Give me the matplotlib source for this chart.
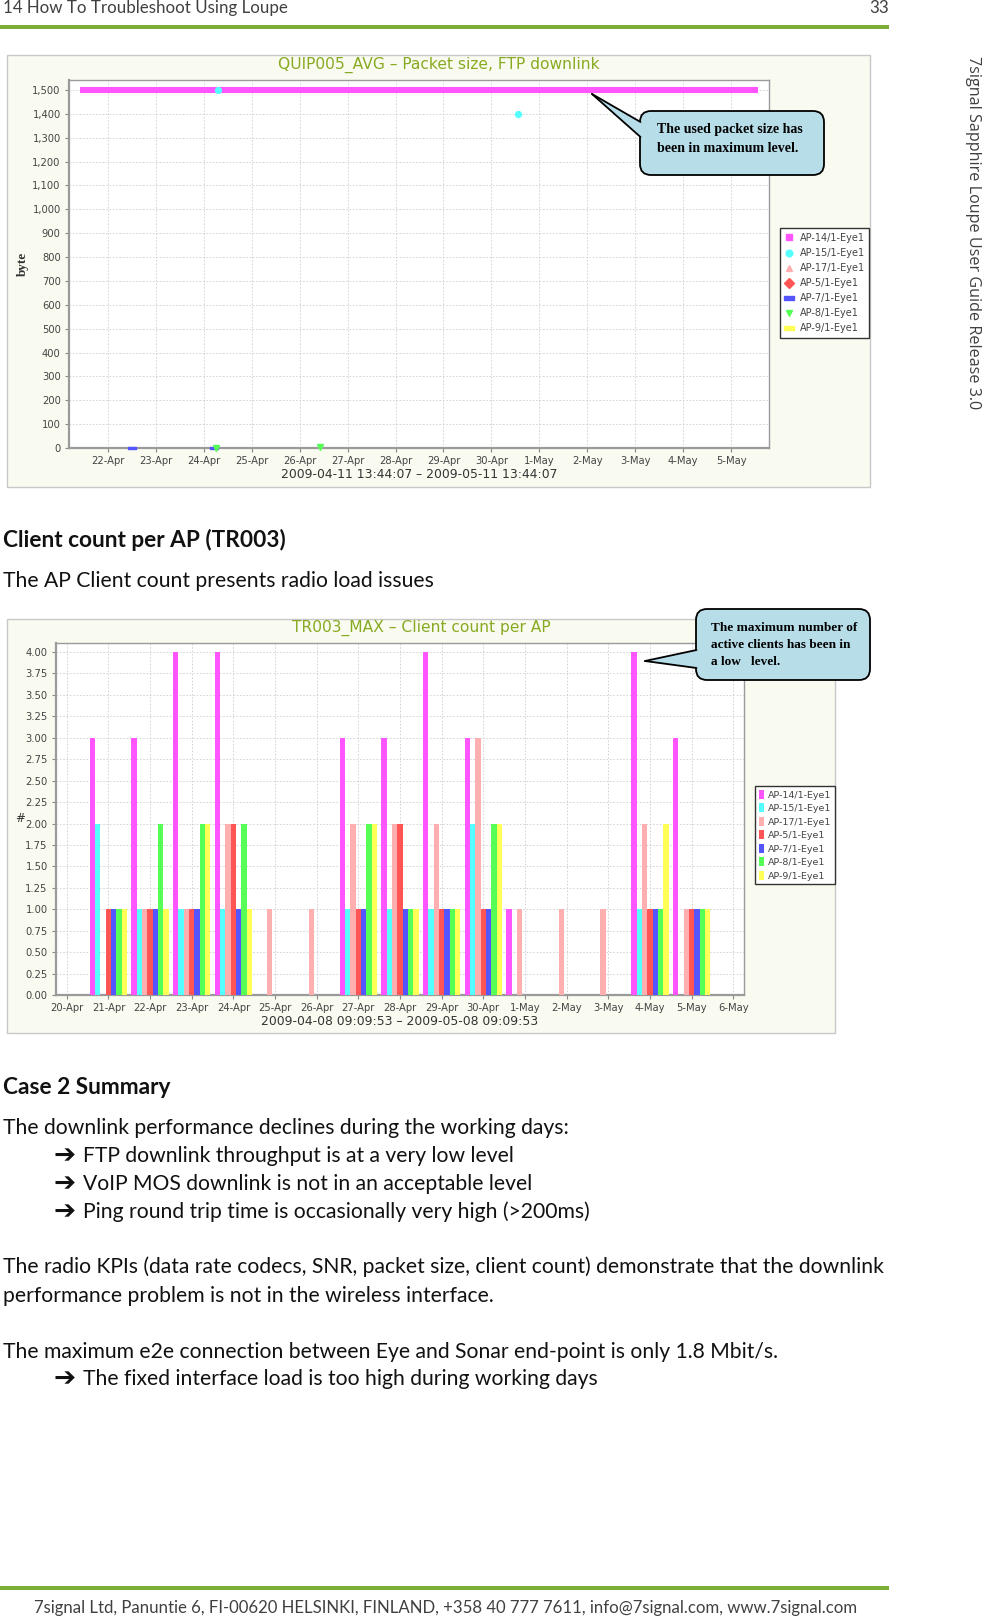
import matplotlib
matplotlib.use("Agg")
import matplotlib.pyplot as plt
import matplotlib.dates as mdates
import numpy as np
import pandas as pd
from matplotlib.patches import FancyBboxPatch, Rectangle, Polygon
from matplotlib.lines import Line2D
from matplotlib.ticker import FuncFormatter, MultipleLocator, FixedLocator

W, H = 982, 1617

# ---------------- data ----------------
series_names = ["AP-14/1-Eye1", "AP-15/1-Eye1", "AP-17/1-Eye1", "AP-5/1-Eye1",
                "AP-7/1-Eye1", "AP-8/1-Eye1", "AP-9/1-Eye1"]
series_colors = ["#ff55ff", "#55ffff", "#ffafaf", "#ff5555", "#5555ff", "#55ff55", "#ffff55"]

# Packet size chart (QUIP005_AVG)
pkt_title = "QUIP005_AVG \u2013 Packet size, FTP downlink"
pkt_range = "2009-04-11 13:44:07 \u2013 2009-05-11 13:44:07"
pkt_ap14_t = ["2009-04-21 10:00", "2009-05-05 13:30"]
pkt_ap14_v = [1500, 1500]
pkt_ap15_t = ["2009-04-24 07:00", "2009-04-30 13:30"]
pkt_ap15_v = [1500, 1400]
pkt_ap17_t, pkt_ap17_v = [], []
pkt_ap5_t, pkt_ap5_v = [], []
pkt_ap7_t = ["2009-04-22 12:00", "2009-04-24 05:00"]
pkt_ap7_v = [0, 0]
pkt_ap8_t = ["2009-04-24 06:00", "2009-04-26 10:00"]
pkt_ap8_v = [0, 4]
pkt_ap9_t, pkt_ap9_v = [], []

# Client count chart (TR003_MAX)
cc_title = "TR003_MAX \u2013 Client count per AP"
cc_range = "2009-04-08 09:09:53 \u2013 2009-05-08 09:09:53"
cc_days = ["20-Apr", "21-Apr", "22-Apr", "23-Apr", "24-Apr", "25-Apr", "26-Apr", "27-Apr",
           "28-Apr", "29-Apr", "30-Apr", "1-May", "2-May", "3-May", "4-May", "5-May", "6-May"]
cc_ap14 = [0, 3, 3, 4, 4, 0, 0, 3, 3, 4, 3, 1, 0, 0, 4, 3, 0]
cc_ap15 = [0, 2, 1, 1, 1, 0, 0, 1, 1, 1, 2, 0, 0, 0, 1, 0, 0]
cc_ap17 = [0, 0, 1, 1, 2, 1, 1, 2, 2, 2, 3, 1, 1, 1, 2, 1, 0]
cc_ap5 = [0, 1, 1, 1, 2, 0, 0, 1, 2, 1, 1, 0, 0, 0, 1, 1, 0]
cc_ap7 = [0, 1, 1, 1, 1, 0, 0, 1, 1, 1, 1, 0, 0, 0, 1, 1, 0]
cc_ap8 = [0, 1, 2, 2, 2, 0, 0, 2, 1, 1, 2, 0, 0, 0, 1, 1, 0]
cc_ap9 = [0, 1, 1, 2, 1, 0, 0, 2, 1, 1, 2, 0, 0, 0, 2, 1, 0]

# ---------------- helpers ----------------
def frac(x, y, w, h):
    return [x / W, 1 - (y + h) / H, w / W, h / H]

def tnum(lst):
    return np.array([mdates.date2num(pd.Timestamp(s).to_pydatetime()) for s in lst], dtype=float)

flat_rect = [(-1, -0.35), (1, -0.35), (1, 0.35), (-1, 0.35), (-1, -0.35)]
series_markers = ["s", "o", "^", "D", flat_rect, "v", flat_rect]

fig = plt.figure(figsize=(W / 100, H / 100), dpi=100)
fig.patch.set_facecolor("white")

bg = fig.add_axes([0, 0, 1, 1])
bg.set_xlim(0, W)
bg.set_ylim(H, 0)
bg.axis("off")

renderer = fig.canvas.get_renderer()

def fit_size(text, family, weight, target_w, base=14.0):
    t = fig.text(0, 0, text, fontsize=base, family=family, weight=weight)
    w = t.get_window_extent(renderer).width
    t.remove()
    return base * target_w / w

GREEN = "#7cad35"
BODY_FONT = ["Lato", "DejaVu Sans"]

# header / footer
bg.add_patch(Rectangle((0, 25), 889, 4, fc=GREEN, ec="none"))
bg.add_patch(Rectangle((0, 1586), 889, 4, fc=GREEN, ec="none"))
hs = fit_size("14 How To Troubleshoot Using Loupe", BODY_FONT, "normal", 285)
bg.text(3, 8, "14 How To Troubleshoot Using Loupe", fontsize=hs, family=BODY_FONT,
        color="#404040", ha="left", va="center")
bg.text(889, 8, "33", fontsize=hs, family=BODY_FONT, color="#404040", ha="right", va="center")
fs_foot = fit_size("7signal Ltd, Panuntie 6, FI-00620 HELSINKI, FINLAND, +358 40 777 7611, "
                   "info@7signal.com, www.7signal.com", BODY_FONT, "normal", 830)
bg.text(446, 1608, "7signal Ltd, Panuntie 6, FI-00620 HELSINKI, FINLAND, +358 40 777 7611, "
        "info@7signal.com, www.7signal.com", fontsize=fs_foot, family=BODY_FONT,
        color="#404040", ha="center", va="center")
vs = fit_size("7signal Sapphire Loupe User Guide Release 3.0", ["Open Sans", "DejaVu Sans"], "normal", 353)
bg.text(973, 233, "7signal Sapphire Loupe User Guide Release 3.0", fontsize=vs,
        family=["Open Sans", "DejaVu Sans"], color="#404040", rotation=-90,
        ha="center", va="center")

# body text
bs = fit_size("The radio KPIs (data rate codecs, SNR, packet size, client count) demonstrate "
              "that the downlink", BODY_FONT, "normal", 882)
hb = fit_size("Client count per AP (TR003)", BODY_FONT, "bold", 285)
TXT = "#111111"
bg.text(3, 540, "Client count per AP (TR003)", fontsize=hb, family=BODY_FONT, weight="bold",
        color=TXT, ha="left", va="center")
bg.text(3, 581, "The AP Client count presents radio load issues", fontsize=bs,
        family=BODY_FONT, color=TXT, ha="left", va="center")
bg.text(3, 1087, "Case 2 Summary", fontsize=hb, family=BODY_FONT, weight="bold",
        color=TXT, ha="left", va="center")
plain_lines = [
    (1128, "The downlink performance declines during the working days:", False),
    (1156, "FTP downlink throughput is at a very low level", True),
    (1184, "VoIP MOS downlink is not in an acceptable level", True),
    (1212, "Ping round trip time is occasionally very high (>200ms)", True),
    (1267, "The radio KPIs (data rate codecs, SNR, packet size, client count) demonstrate that the downlink", False),
    (1296, "performance problem is not in the wireless interface.", False),
    (1352, "The maximum e2e connection between Eye and Sonar end-point is only 1.8 Mbit/s.", False),
    (1379, "The fixed interface load is too high during working days", True),
]
for y, s, bullet in plain_lines:
    if bullet:
        bg.text(54, y, "\u2794", fontsize=bs * 1.25, family=["DejaVu Sans"], weight="bold",
                color=TXT, ha="left", va="center")
        bg.text(83, y, s, fontsize=bs, family=BODY_FONT, color=TXT, ha="left", va="center")
    else:
        bg.text(3, y, s, fontsize=bs, family=BODY_FONT, color=TXT, ha="left", va="center")

# chart panels
PANEL = "#f9fbf0"
bg.add_patch(Rectangle((7, 55), 863, 432, fc=PANEL, ec="#c8c8c8", lw=1))
bg.add_patch(Rectangle((7, 619), 828, 414, fc=PANEL, ec="#c8c8c8", lw=1))
TITLE_C = "#88aa22"
bg.text(438.5, 65, pkt_title, ha="center", va="center", color=TITLE_C, fontsize=11.2,
        family="DejaVu Sans")
bg.text(421, 628, cc_title, ha="center", va="center", color=TITLE_C, fontsize=11.2,
        family="DejaVu Sans")

def style_axes(ax):
    ax.set_facecolor("white")
    for sp in ax.spines.values():
        sp.set_color("#9a9a9a")
        sp.set_linewidth(1.0)
    ax.spines["left"].set_linewidth(1.6)
    ax.spines["bottom"].set_linewidth(1.6)
    ax.tick_params(direction="out", length=3, width=0.8, color="#888888",
                   labelcolor="#444444", labelsize=7.2, pad=3)
    ax.grid(True, color="#cfcfcf", ls=(0, (2, 2)), lw=0.6)
    ax.set_axisbelow(True)
    for lab in ax.get_xticklabels() + ax.get_yticklabels():
        lab.set_family("DejaVu Sans")

# ---------------- chart 1: packet size ----------------
ax1 = fig.add_axes(frac(69, 80, 700, 368))
pkt_series = [(pkt_ap14_t, pkt_ap14_v), (pkt_ap15_t, pkt_ap15_v), (pkt_ap17_t, pkt_ap17_v),
              (pkt_ap5_t, pkt_ap5_v), (pkt_ap7_t, pkt_ap7_v), (pkt_ap8_t, pkt_ap8_v),
              (pkt_ap9_t, pkt_ap9_v)]
for i, (tt, vv) in enumerate(pkt_series):
    if i == 0:
        ax1.plot(tnum(tt), vv, color=series_colors[i], lw=4.4, solid_capstyle="butt", zorder=3)
    else:
        ms = 6 if series_markers[i] is flat_rect else 4.2
        ax1.plot(tnum(tt), vv, ls="none", marker=series_markers[i], ms=ms,
                 color=series_colors[i], mec=series_colors[i], zorder=4, clip_on=False)
ax1.set_xlim(tnum(["2009-04-21 04:30"])[0], tnum(["2009-05-05 19:00"])[0])
ax1.set_ylim(0, 1542)
day_ticks = pd.date_range("2009-04-22", "2009-05-05", freq="D")
ax1.xaxis.set_major_locator(FixedLocator(mdates.date2num(day_ticks.to_pydatetime())))
ax1.xaxis.set_major_formatter(FuncFormatter(
    lambda v, p: "%d-%s" % (mdates.num2date(v).day, mdates.num2date(v).strftime("%b"))))
ax1.yaxis.set_major_locator(MultipleLocator(100))
ax1.yaxis.set_major_formatter(FuncFormatter(lambda v, p: f"{int(round(v)):,}"))
style_axes(ax1)
ax1.set_ylabel("byte", family="Liberation Serif", weight="bold", fontsize=9.5, color="#333333")
ax1.yaxis.set_label_coords(-0.058, 0.5)
ax1.set_xlabel(pkt_range, fontsize=8.9, color="#333333", family="DejaVu Sans")
ax1.xaxis.set_label_coords(0.5, -0.055)

h1 = [Line2D([], [], ls="none", marker=series_markers[i],
             ms=(6.5 if series_markers[i] is flat_rect else 4.8),
             color=series_colors[i], mec=series_colors[i]) for i in range(7)]
leg1 = ax1.legend(h1, series_names, loc="upper left", bbox_to_anchor=(780 / W, 1 - 228 / H),
                  bbox_transform=fig.transFigure, fontsize=7.0, frameon=True, fancybox=False,
                  framealpha=1, edgecolor="#333333", labelspacing=0.52, handlelength=0.8,
                  handletextpad=0.7, borderpad=0.5, borderaxespad=0)
leg1.get_frame().set_linewidth(1.0)
for t in leg1.get_texts():
    t.set_color("#444444")

# ---------------- chart 2: client count ----------------
ax2 = fig.add_axes(frac(56, 643, 688, 352))
cc_series = [cc_ap14, cc_ap15, cc_ap17, cc_ap5, cc_ap7, cc_ap8, cc_ap9]
x = np.arange(len(cc_days))
bw = 0.128
for i, vals in enumerate(cc_series):
    ax2.bar(x + (i - 3) * bw, vals, width=bw, color=series_colors[i], lw=0,
            label=series_names[i], zorder=3)
ax2.set_xlim(-0.26, len(cc_days) - 1 + 0.26)
ax2.set_ylim(0, 4.105)
ax2.set_xticks(x)
ax2.set_xticklabels(cc_days)
ax2.yaxis.set_major_locator(MultipleLocator(0.25))
ax2.yaxis.set_major_formatter(FuncFormatter(lambda v, p: f"{v:.2f}"))
style_axes(ax2)
ax2.set_ylabel("#", fontsize=8.5, color="#333333", rotation=0, family="DejaVu Sans",
               va="center", ha="center")
ax2.yaxis.set_label_coords(-0.052, 0.5)
ax2.set_xlabel(cc_range, fontsize=8.9, color="#333333", family="DejaVu Sans")
ax2.xaxis.set_label_coords(0.5, -0.057)
leg2 = ax2.legend(loc="upper left", bbox_to_anchor=(755 / W, 1 - 786 / H),
                  bbox_transform=fig.transFigure, fontsize=6.8, frameon=True, fancybox=False,
                  framealpha=1, edgecolor="#333333", labelspacing=0.4, handlelength=0.6,
                  handleheight=1.1, handletextpad=0.4, borderpad=0.4, borderaxespad=0)
leg2.get_frame().set_linewidth(1.0)
for t in leg2.get_texts():
    t.set_color("#444444")

# ---------------- callouts ----------------
ov = fig.add_axes([0, 0, 1, 1], zorder=10)
ov.set_xlim(0, W)
ov.set_ylim(H, 0)
ov.axis("off")
ov.patch.set_alpha(0)
CALL = "#b7dde8"

def callout(bx, by, bw_, bh, tip, base1, base2, lines, tx, ty0, dy, fsz):
    ov.add_patch(FancyBboxPatch((bx, by), bw_, bh, boxstyle="round,pad=0,rounding_size=11",
                                fc=CALL, ec="black", lw=1.3, zorder=1))
    def ext(p, d=3.0):
        vx, vy = p[0] - tip[0], p[1] - tip[1]
        k = (vx + d) / vx
        return (tip[0] + vx * k, tip[1] + vy * k)
    ov.add_patch(Polygon([tip, ext(base1), ext(base2)], closed=True, fc=CALL, ec="none", zorder=2))
    ov.plot([tip[0], base1[0]], [tip[1], base1[1]], color="black", lw=1.3, zorder=3,
            solid_capstyle="round")
    ov.plot([tip[0], base2[0]], [tip[1], base2[1]], color="black", lw=1.3, zorder=3,
            solid_capstyle="round")
    for k, s in enumerate(lines):
        ov.text(tx, ty0 + k * dy, s, family="Liberation Serif", weight="bold", fontsize=fsz,
                color="black", ha="left", va="center", zorder=4)

callout(640, 111, 184, 64, (592, 94), (640.5, 122), (640.5, 137),
        ["The used packet size has", "been in maximum level."], 657, 130, 18, 10.0)
callout(696, 609, 174, 71, (645, 661), (696.5, 650), (696.5, 668),
        ["The maximum number of", "active clients has been in", "a low   level."], 711, 628, 17, 9.5)

fig.savefig("out.png", dpi=100, facecolor="white")
